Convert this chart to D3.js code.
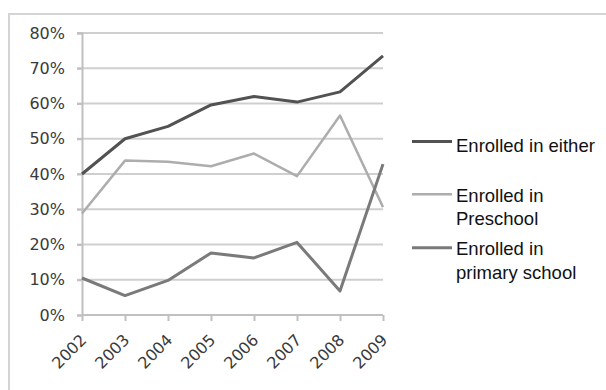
<!DOCTYPE html>
<html>
<head>
<meta charset="utf-8">
<script src="https://cdn.jsdelivr.net/npm/d3@7/dist/d3.min.js"></script>
<style>
  html, body { margin: 0; padding: 0; background: #fff; }
  svg { display: block; }
</style>
</head>
<body>
<svg id="chart" width="606" height="390"></svg>
<script>
// Enrollment shares by year
const years = ["2002", "2003", "2004", "2005", "2006", "2007", "2008", "2009"];
const enrolledEither = [0.40, 0.50, 0.535, 0.596, 0.62, 0.604, 0.633, 0.735];
const enrolledPreschool = [0.288, 0.438, 0.435, 0.422, 0.458, 0.394, 0.566, 0.306];
const enrolledPrimary = [0.105, 0.055, 0.098, 0.176, 0.162, 0.206, 0.068, 0.428];
const yTicks = [0, 0.1, 0.2, 0.3, 0.4, 0.5, 0.6, 0.7, 0.8];

const seriesNames = ["Enrolled in either", "Enrolled in Preschool", "Enrolled in primary school"];
const seriesColors = ["#525252", "#adadad", "#7a7a7a"];
const seriesWidths = [3, 2.5, 3];
const legendLines = [["Enrolled in either"], ["Enrolled in", "Preschool"], ["Enrolled in", "primary school"]];

const axisFont = "'DejaVu Sans', Verdana, sans-serif";
const legendFont = "'Liberation Sans', Arial, sans-serif";

const svg = d3.select("#chart");

// outer frame
svg.append("rect")
  .attr("x", 9).attr("y", 14).attr("width", 620).attr("height", 400)
  .attr("fill", "none").attr("stroke", "#d4d4d4").attr("stroke-width", 2);

const x = d3.scalePoint().domain(years).range([82, 383]);
const y = d3.scaleLinear().domain([0, 0.8]).range([315, 33]);

// horizontal gridlines
svg.append("g").selectAll("line").data(yTicks.slice(1)).join("line")
  .attr("x1", 77).attr("x2", 383)
  .attr("y1", d => y(d)).attr("y2", d => y(d))
  .attr("stroke", "#cfcfcf").attr("stroke-width", 2);

// y axis
const yAxis = svg.append("g").attr("transform", "translate(82,0)")
  .call(d3.axisLeft(y).tickValues(yTicks).tickFormat(d3.format(".0%")).tickSize(5).tickPadding(12));
yAxis.select(".domain").attr("stroke", "#c0c0c0").attr("stroke-width", 2);
yAxis.selectAll(".tick line").attr("stroke", "#c0c0c0").attr("stroke-width", 2);
yAxis.selectAll(".tick text")
  .style("font-family", axisFont).style("font-size", "16px")
  .attr("fill", "#3a3a3a");

// x axis
const xAxis = svg.append("g").attr("transform", "translate(0,315)")
  .call(d3.axisBottom(x).tickSize(6).tickSizeOuter(0));
xAxis.select(".domain").attr("stroke", "#c0c0c0").attr("stroke-width", 2)
  .attr("d", "M82,0H383");
xAxis.selectAll(".tick line").attr("stroke", "#c0c0c0").attr("stroke-width", 2);
xAxis.selectAll(".tick text")
  .style("font-family", axisFont).style("font-size", "16px")
  .attr("fill", "#3a3a3a")
  .attr("text-anchor", "end")
  .attr("dy", null).attr("y", null)
  .attr("transform", "translate(5,26) rotate(-45)");

// series lines
const seriesData = [enrolledEither, enrolledPreschool, enrolledPrimary];
const line = d3.line().x((d, i) => x(years[i])).y(d => y(d));
seriesData.forEach((vals, k) => {
  svg.append("path").datum(vals)
    .attr("d", line)
    .attr("fill", "none")
    .attr("stroke", seriesColors[k])
    .attr("stroke-width", seriesWidths[k])
    .attr("stroke-linejoin", "round");
});

// legend
const legendY = [141.5, 194.3, 247.7];
const legend = svg.append("g");
legendLines.forEach((lines, k) => {
  legend.append("line")
    .attr("x1", 412).attr("x2", 452)
    .attr("y1", legendY[k]).attr("y2", legendY[k])
    .attr("stroke", seriesColors[k]).attr("stroke-width", seriesWidths[k]);
  const t = legend.append("text")
    .attr("x", 456).attr("y", legendY[k] + (lines.length > 1 ? 7.5 : 10))
    .style("font-family", legendFont).style("font-size", "18.5px")
    .attr("fill", "#111");
  lines.forEach((s, j) => {
    t.append("tspan").attr("x", 456).attr("dy", j === 0 ? 0 : 23.4).text(s);
  });
});
</script>
</body>
</html>
